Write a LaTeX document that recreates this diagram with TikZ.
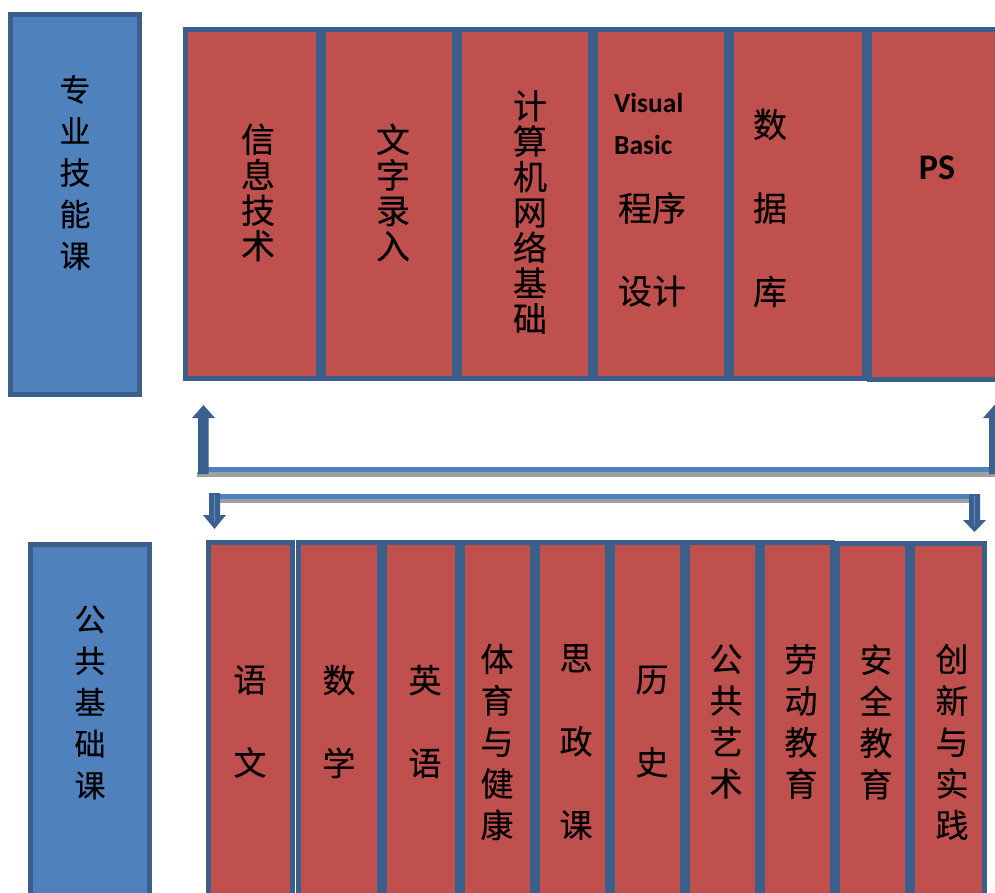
\documentclass[tikz,border=0pt]{standalone}
\usepackage{fontspec}
\newfontfamily\cjk[FakeBold=0.2]{Noto Sans CJK SC}
\newfontfamily\calb[BoldFont={Carlito Bold}]{Carlito}
\definecolor{redf}{HTML}{C0504D}
\definecolor{bord}{HTML}{3A5F8B}
\definecolor{bluef}{HTML}{4F81BD}
\definecolor{arrc}{HTML}{3A6090}
\definecolor{shadow}{HTML}{A0A0A0}
\definecolor{hilite}{HTML}{6A8CBC}
\tikzset{
  redbox/.style={draw=bord, fill=redf, line width=5pt},
  bluebox/.style={draw=bord, fill=bluef, line width=5pt},
  toplab/.style={inner sep=0pt, align=center, font=\cjk\fontsize{34}{35.5}\selectfont},
  sidelab/.style={inner sep=0pt, align=center, font=\cjk\fontsize{31}{41.5}\selectfont},
  botlab/.style={inner sep=0pt, align=center, font=\cjk\fontsize{33}{41.5}\selectfont},
  latlab/.style={inner sep=0pt, font=\calb\bfseries\fontsize{27.5}{30}\selectfont},
  arrowshape/.style={fill=arrc, draw=none},
}
\begin{document}
\begin{tikzpicture}[x=1pt, y=-1pt]
\useasboundingbox (0,0) rectangle (995,893);
\clip (0,0) rectangle (995,893);
\fill[white] (0,0) rectangle (995,893);

% ---------- top blue label box ----------
\draw[bluebox] (10.5,14.5) rectangle (139.5,394.5);
\node[sidelab] (zyjnk) at (75,172.5) {专\\业\\技\\能\\课};

% ---------- top red boxes ----------
\draw[redbox] (185.5,29.5) rectangle (318.5,378.5);
\draw[redbox] (323.5,29.5) rectangle (454.5,378.5);
\draw[redbox] (459.5,29.5) rectangle (590.5,378.5);
\draw[redbox] (595.5,29.5) rectangle (726.5,378.5);
\draw[redbox] (731.5,29.5) rectangle (864.5,378.5);
\draw[redbox] (869.5,29.5) rectangle (1010,379.5);

\node[toplab] (xxjs) at (258,192.5) {信\\息\\技\\术};
\node[toplab] (wzlr) at (393,192.5) {文\\字\\录\\入};
\node[toplab] (jsjwl) at (530,212) {计\\算\\机\\网\\络\\基\\础};
\node[latlab, anchor=base west] (vis) at (614,113) {Visual};
\node[latlab, anchor=base west] (bas) at (614,155) {Basic};
\node[toplab] (cx) at (652,208) {程序};
\node[toplab] (sj) at (652,291) {设计};
\node[toplab, font=\cjk\fontsize{34}{41.75}\selectfont] (sjk) at (770,208) {数\\[41.75pt]据\\[41.75pt]库};
\node[inner sep=0pt, font=\calb\bfseries\fontsize{36}{40}\selectfont] (ps) at (937,168) {PS};

% ---------- connecting bars ----------
\fill[shadow] (197,472) rectangle (995,477);
\fill[bluef] (198,467) rectangle (995,472);
\fill[shadow] (215,499) rectangle (975,503);
\fill[bluef] (215,494) rectangle (975,499);

% up arrows
\fill[arrowshape] (198,474) -- (198,418) -- (192,418) -- (203.5,405) -- (215,418) -- (208.5,418) -- (208.5,474) -- cycle;
\fill[arrowshape] (989,474) -- (989,418) -- (983,418) -- (994.5,405) -- (1006,418) -- (999.5,418) -- (999.5,474) -- cycle;
% down arrows
\fill[arrowshape] (209,493) -- (220,493) -- (220,515) -- (226,515) -- (214.5,529) -- (203,515) -- (209,515) -- cycle;
\draw[hilite, line width=0.8pt] (214.5,495) -- (214.5,522);
\fill[arrowshape] (969,494) -- (980,494) -- (980,520) -- (986,520) -- (974.5,532) -- (963,520) -- (969,520) -- cycle;
\draw[hilite, line width=0.8pt] (974.5,496) -- (974.5,526);

% ---------- bottom blue label box ----------
\draw[bluebox] (30.5,544.5) rectangle (149.5,905);
\node[sidelab] (ggjck) at (90,702.5) {公\\共\\基\\础\\课};

% ---------- bottom red boxes ----------
\draw[redbox] (208.5,542.5) rectangle (292.5,905);
\draw[redbox] (298.5,542.5) rectangle (379.5,905);
\draw[redbox] (384.5,542.5) rectangle (457.5,905);
\draw[redbox] (462.5,542.5) rectangle (532.5,905);
\draw[redbox] (537.5,542.5) rectangle (607.5,905);
\draw[redbox] (612.5,542.5) rectangle (682.5,905);
\draw[redbox] (687.5,542.5) rectangle (757.5,905);
\draw[redbox] (762.5,542.5) rectangle (832.5,905);
\draw[redbox] (837.5,543.5) rectangle (907.5,905);
\draw[redbox] (912.5,543.5) rectangle (984.5,905);

\node[botlab] (yw) at (250,721.5) {语\\[41.5pt]文};
\node[botlab] (sx) at (339,721.5) {数\\[41.5pt]学};
\node[botlab] (yy) at (425,721.5) {英\\[41.5pt]语};
\node[botlab] (tyyjk) at (497,742) {体\\育\\与\\健\\康};
\node[botlab] (szk) at (576,742) {思\\[42pt]政\\[42pt]课};
\node[botlab] (ls) at (652,721.5) {历\\[41.5pt]史};
\node[botlab] (ggys) at (726,721.5) {公\\共\\艺\\术};
\node[botlab] (ldjy) at (801,721.5) {劳\\动\\教\\育};
\node[botlab] (aqjy) at (876,722) {安\\全\\教\\育};
\node[botlab] (cxysj) at (952,742) {创\\新\\与\\实\\践};
\end{tikzpicture}
\end{document}
